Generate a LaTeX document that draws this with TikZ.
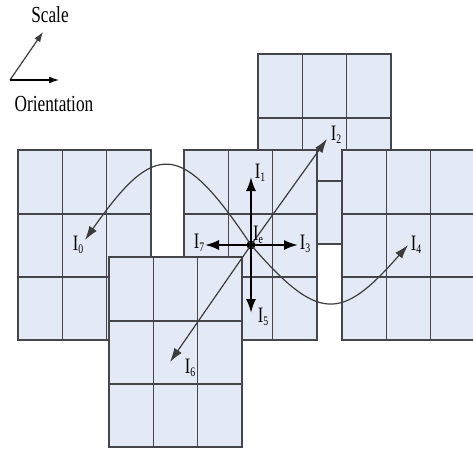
\documentclass[tikz,border=0pt]{standalone}
\usepackage{fontspec}
\setmainfont[FakeStretch=0.75]{Liberation Serif}
\usetikzlibrary{arrows.meta}
\definecolor{cellfill}{RGB}{228,234,245}
\definecolor{gridline}{RGB}{68,70,76}
\definecolor{thingray}{RGB}{60,60,60}
\newcommand{\lbl}[1]{I\raisebox{-0.3ex}{\fontsize{13}{13}\selectfont #1}}
\tikzset{
  gridstyle/.style={draw=gridline,line width=1.6pt},
  cellgrid/.pic={
    \fill[cellfill] (0,0) rectangle (133,190);
    \foreach \i in {44.33,88.67} \draw[gridstyle] (\i,0) -- (\i,190);
    \foreach \j in {64,127} \draw[gridstyle] (0,\j) -- (133,\j);
    \draw[gridstyle] (0,0) rectangle (133,190);
  }
}
\begin{document}
\begin{tikzpicture}[x=1pt,y=-1pt,
  lab/.style={inner sep=0pt,font=\fontsize{22}{22}\selectfont},
  ttl/.style={inner sep=0pt,font=\fontsize{23}{23}\selectfont},
  hvarrow/.style={draw=black,line width=2pt,-{Latex[length=14pt,width=10pt]}},
  diagarrow/.style={draw=thingray,line width=1.2pt,-{Latex[length=14pt,width=9pt]}},
  keyarrow/.style={line width=1.2pt,-{Latex[length=10pt,width=7pt]}}]
\useasboundingbox (0,0) rectangle (473,449);
\clip (0,0) rectangle (473,449);
\fill[white] (0,0) rectangle (473,449);

% grids
\pic at (18,150) {cellgrid};
\pic at (258,54) {cellgrid};
\pic at (342,150) {cellgrid};
\pic at (184,150) {cellgrid};
\pic at (109,257) {cellgrid};

% key
\coordinate (o) at (10,80);
\coordinate (sc) at (43,32);
\coordinate (or) at (59,80);
\draw[keyarrow,draw=thingray] (o) -- (sc);
\draw[keyarrow,draw=black] (o) -- (or);
\node[ttl] (scale) at (50,15) {Scale};
\node[ttl] (orient) at (54,104) {Orientation};

% center and tips
\node[circle,fill=black,inner sep=0pt,minimum size=9pt] (c) at (251,245) {};
\coordinate (t0) at (85,240);
\coordinate (t1) at (251,177);
\coordinate (t2) at (327,139);
\coordinate (t3) at (298,245);
\coordinate (t4) at (408,245);
\coordinate (t5) at (251,313);
\coordinate (t6) at (170,362);
\coordinate (t7) at (205,245);

\draw[diagarrow] (c.center) .. controls (181,140) and (155,140) .. (t0);
\draw[diagarrow] (c.center) .. controls (318,322) and (341,322) .. (t4);
\draw[diagarrow] (c.center) -- (t2);
\draw[diagarrow] (c.center) -- (t6);
\draw[hvarrow] (c.center) -- (t1);
\draw[hvarrow] (c.center) -- (t3);
\draw[hvarrow] (c.center) -- (t5);
\draw[hvarrow] (c.center) -- (t7);

% labels
\node[lab] (I0) at (78,245) {\lbl{0}};
\node[lab] (I1) at (260,173) {\lbl{1}};
\node[lab] (I2) at (336,135) {\lbl{2}};
\node[lab] (I3) at (305,244) {\lbl{3}};
\node[lab] (I4) at (416,245) {\lbl{4}};
\node[lab] (I5) at (263,317) {\lbl{5}};
\node[lab] (I6) at (190,368) {\lbl{6}};
\node[lab] (I7) at (199,243) {\lbl{7}};
\node[lab] (Ie) at (258,235) {\lbl{e}};
\end{tikzpicture}
\end{document}
